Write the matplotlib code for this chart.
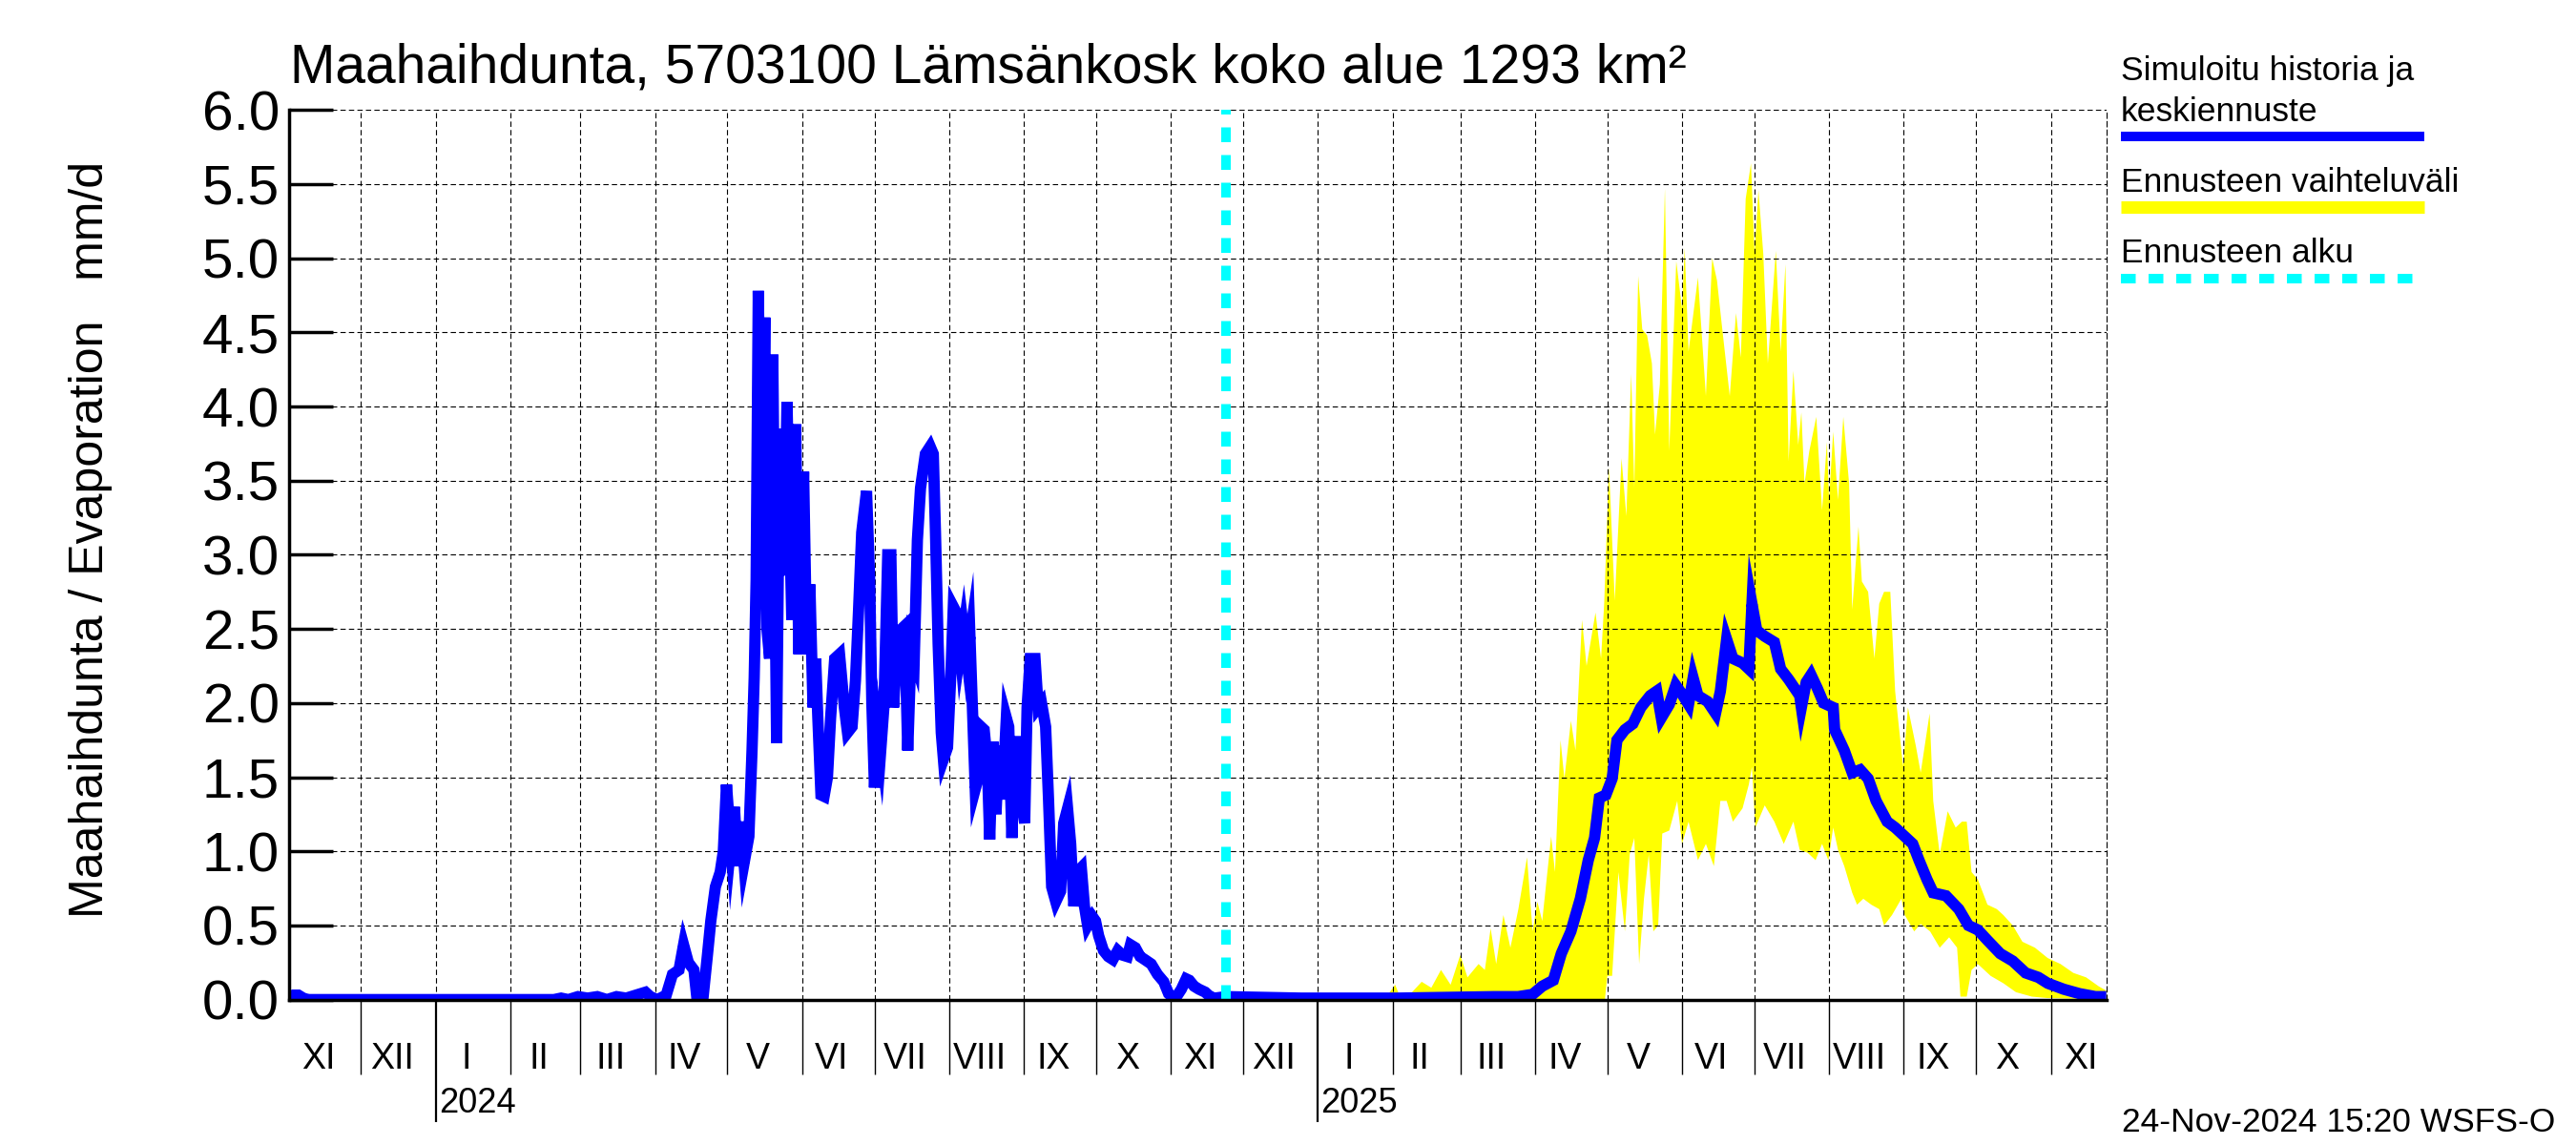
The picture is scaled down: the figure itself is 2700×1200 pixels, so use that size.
import numpy as np
import pandas as pd
import matplotlib
matplotlib.use("Agg")
import matplotlib.pyplot as plt
import matplotlib.dates as mdates
from matplotlib.lines import Line2D
from matplotlib.transforms import blended_transform_factory, offset_copy

plt.rcParams['font.family'] = ['Liberation Sans', 'DejaVu Sans']

# ---------------- data ----------------
BASE_DATE = "2023-11-01"
X_START = "2023-11-01"
X_END = "2025-11-24"
FORECAST_START = "2024-11-24"

title = "Maahaihdunta, 5703100 Lämsänkosk koko alue 1293 km²"
ylabel = "Maahaihdunta / Evaporation   mm/d"
footer = "24-Nov-2024 15:20 WSFS-O"
roman_months = ["I", "II", "III", "IV", "V", "VI", "VII", "VIII", "IX", "X", "XI", "XII"]
legend_labels = ["Simuloitu historia ja\nkeskiennuste", "Ennusteen vaihteluväli", "Ennusteen alku"]
y_ticks = [0.0, 0.5, 1.0, 1.5, 2.0, 2.5, 3.0, 3.5, 4.0, 4.5, 5.0, 5.5, 6.0]

# simulated history (days since BASE_DATE, mm/d)
hist_day = [0, 2, 4, 6, 8, 110, 113, 116, 120, 124, 128, 132, 136, 140, 144, 148, 150, 153,
            156.6, 159.2, 161.9, 163.8, 165.8, 168.1, 169.4, 171.8, 173.7, 175.1, 177.0, 179.0,
            180.3, 181.6, 183.4, 184.9, 186.3, 187.6, 188.9, 190.9, 192.2, 193.1, 193.9, 194.8,
            196.2, 197.5, 198.4, 199.5, 200.8, 202.4, 203.7, 205.4, 206.7, 208.7, 210.3, 211.6,
            213.6, 214.9, 216.2, 217.5, 218.6, 219.5, 220.8, 222.1, 223.5, 224.8, 226.5, 228.5,
            230.5, 231.8, 233.7, 235.1, 236.4, 237.7, 239.7, 241.0, 241.9, 243.0, 244.3, 245.6,
            246.9, 248.5, 249.8, 250.9, 252.2, 254.2, 255.5, 256.8, 258.2, 259.5, 260.8, 262.1,
            264.1, 266.1, 267.4, 268.3, 269.4, 270.7, 271.6, 273.3, 274.7, 275.7, 277.3, 278.6,
            279.9, 281.3, 282.6, 283.9, 284.8, 286.1, 287.2, 288.5, 289.8, 290.8, 292.1, 293.4,
            294.7, 296.0, 297.7, 298.7, 300.0, 301.3, 302.6, 304.0, 305.3, 306.3, 307.6, 309.6,
            310.9, 312.3, 314.0, 315.2, 316.5, 318.2, 320.2, 321.5, 323.1, 324.4, 325.7, 327.0,
            328.8, 330.1, 331.4, 333.4, 334.7, 336.0, 338.0, 340.0, 341.9, 343.9, 345.9, 347.9,
            349.2, 351.2, 353.2, 355.1, 357.8, 360.4, 363.0, 365.0, 366.3, 368.3, 370.3, 372.3,
            373.6, 375.6, 377.6, 380.2, 382.2, 384.2, 388.8]
hist_val = [0.01, 0.03, 0.03, 0.01, 0.0, 0.0, 0.01, 0.0, 0.02, 0.01, 0.02, 0.0, 0.02, 0.01, 0.03, 0.05, 0.02, 0.0,
            0.03, 0.17, 0.20, 0.37, 0.25, 0.20, 0.0, 0.0, 0.30, 0.53, 0.76, 0.86,
            1.00, 1.45, 1.05, 1.30, 0.90, 1.20, 0.92, 1.10, 1.68, 2.17, 2.83, 4.78,
            3.10, 4.60, 2.50, 2.30, 4.35, 1.73, 3.85, 2.86, 4.03, 2.56, 3.88, 2.33,
            3.56, 2.33, 2.80, 1.97, 2.30, 1.90, 1.38, 1.37, 1.50, 1.90, 2.30, 2.33,
            1.97, 1.80, 1.84, 2.15, 2.63, 3.15, 3.43, 2.83, 2.00, 1.43, 1.84, 1.68,
            1.97, 3.00, 3.00, 1.97, 2.33, 2.50, 2.52, 1.68, 2.37, 2.30, 3.10, 3.45,
            3.68, 3.73, 3.68, 3.15, 2.40, 1.80, 1.62, 1.70, 2.20, 2.65, 2.60, 2.35,
            2.50, 2.30, 2.45, 1.84, 1.42, 1.50, 1.84, 1.82, 1.60, 1.08, 1.74, 1.25,
            1.71, 1.35, 1.90, 1.84, 1.09, 1.74, 1.74, 1.35, 1.19, 1.97, 2.30, 2.30,
            1.97, 2.00, 1.84, 1.35, 0.76, 0.66, 0.73, 1.19, 1.29, 1.05, 0.63, 0.86,
            0.89, 0.63, 0.50, 0.56, 0.53, 0.43, 0.33, 0.29, 0.27, 0.33, 0.30, 0.29,
            0.37, 0.35, 0.29, 0.27, 0.24, 0.17, 0.12, 0.04, 0.02, 0.02, 0.07, 0.14,
            0.13, 0.09, 0.07, 0.05, 0.02, 0.01, 0.02]

# mean forecast
mean_day = [388.8, 420, 460, 500, 510, 516, 520, 524.6, 527.9, 531.9, 535.8, 539.1, 541.7, 543.7,
            546.4, 549, 551, 554.3, 557.6, 560.9, 564.8, 567.5, 569.4, 572.7, 575.4, 578, 580.7,
            582.6, 584.6, 588.6, 591.9, 593.9, 596.5, 599.1, 603.1, 605.7, 607, 609, 612.3, 616.3,
            618.9, 622.2, 626.8, 627.5, 629.5, 631.5, 634.1, 636.7, 640.7, 641.3, 645.3, 648.6,
            651.9, 655.2, 658.5, 663.1, 666.4, 670.4, 673.7, 676.3, 679.6, 682.2, 687.5, 692.8,
            696.8, 700.7, 704.7, 710, 715.2, 720.5, 725.8, 729.7, 736.3, 742.9, 749.5, 754]
mean_val = [0.02, 0.01, 0.01, 0.02, 0.02, 0.035, 0.09, 0.13, 0.31, 0.46, 0.68, 0.94, 1.09, 1.36,
            1.38, 1.49, 1.75, 1.82, 1.86, 1.97, 2.05, 2.08, 1.90, 1.99, 2.12, 2.06, 1.99,
            2.17, 2.05, 2.01, 1.93, 2.08, 2.43, 2.30, 2.27, 2.23, 2.67, 2.49, 2.45, 2.41,
            2.23, 2.16, 2.05, 1.97, 2.14, 2.19, 2.10, 2.00, 1.97, 1.82, 1.68, 1.53,
            1.55, 1.49, 1.34, 1.20, 1.16, 1.10, 1.05, 0.94, 0.81, 0.72, 0.70, 0.61,
            0.50, 0.47, 0.40, 0.31, 0.26, 0.18, 0.15, 0.11, 0.07, 0.04, 0.02, 0.02]

# forecast range upper / lower
upper_day = [388.8, 455, 459, 461, 466, 470, 474, 478, 482, 486, 489, 493.6, 496.2, 498.6, 500.9,
             503.9, 506.8, 510.1, 513.7, 516, 518, 520, 523.7, 525.3, 527.6, 529.2, 531.9, 533.8,
             536.5, 538.4, 542.1, 544.4, 545.7, 547.7, 550.1, 552.9, 554.9, 556.9, 558.2, 559.8,
             561.5, 563.5, 565.5, 566.8, 568.8, 570.9, 572.7, 575.6, 578, 579.1, 580.7, 584.6,
             587.9, 590.5, 592.5, 594.5, 597.8, 600.4, 602.4, 604.4, 606.6, 608.1, 609.7, 611.7,
             613.6, 616.9, 618.9, 620.9, 622.2, 624.2, 626.2, 627.5, 628.8, 630.8, 633.7, 636.1,
             638.1, 639, 640.7, 642.7, 644.9, 647.3, 648.6, 651.2, 652.6, 655.2, 657.8, 659.8,
             661.8, 664.4, 666.4, 669.7, 671.7, 675, 677, 680.7, 682.2, 684.9, 688.2, 691.5,
             694.1, 696.1, 698.1, 700.7, 704.7, 708.6, 711.3, 715.2, 719.2, 724.4, 729.7, 735,
             740.3, 745.6, 750.8, 754]
upper_val = [0.0, 0.01, 0.10, 0.02, 0.05, 0.12, 0.08, 0.20, 0.10, 0.30, 0.15, 0.24, 0.20, 0.48, 0.24,
             0.57, 0.35, 0.61, 0.96, 0.46, 0.66, 0.53, 1.10, 0.86, 1.75, 1.49, 1.88, 1.68,
             2.56, 2.25, 2.61, 2.30, 2.67, 3.59, 2.69, 3.65, 3.26, 4.22, 3.45, 4.88,
             4.52, 4.48, 4.29, 3.81, 4.15, 5.47, 3.70, 4.98, 4.66, 5.07, 4.37, 4.87,
             4.07, 5.00, 4.85, 4.55, 4.07, 4.63, 4.33, 5.40, 5.64, 5.03, 5.46, 5.03,
             4.29, 5.05, 4.37, 4.96, 3.63, 4.24, 3.74, 3.96, 3.48, 3.70, 3.93, 3.30,
             3.76, 3.37, 3.83, 3.37, 3.93, 3.48, 2.63, 3.19, 2.82, 2.75, 2.30, 2.67,
             2.75, 2.75, 2.08, 1.57, 1.97, 1.71, 1.53, 1.93, 1.34, 0.98, 1.27, 1.16,
             1.20, 1.20, 0.86, 0.81, 0.64, 0.61, 0.57, 0.50, 0.39, 0.35, 0.28, 0.24,
             0.18, 0.15, 0.09, 0.06]
lower_day = [388.8, 546, 547, 549, 551.6, 554.3, 556.3, 558.2, 560.2, 562.2, 564.2, 566.1, 568.1,
             569.8, 572.7, 576, 578, 580.7, 584.6, 587.9, 591.2, 593.9, 596.5, 599.1, 603.1,
             605.7, 607, 608.4, 612.3, 616.3, 620.2, 624.2, 626.8, 630.1, 633.4, 636.1, 638.7,
             640.7, 642.7, 645.3, 648.6, 650.6, 653.2, 656.5, 659.8, 661.8, 665.1, 669, 670.4,
             674.3, 677, 680.9, 684.9, 688.8, 692.1, 693.5, 696.1, 698.1, 700.7, 706, 711.3,
             716.5, 723.1, 729.7, 754]
lower_val = [0.0, 0.0, 0.16, 0.16, 0.86, 0.46, 0.98, 1.09, 0.24, 0.68, 0.98, 0.46, 0.50,
             1.12, 1.14, 1.34, 1.05, 1.20, 0.94, 1.05, 0.90, 1.34, 1.34, 1.20, 1.29,
             1.45, 1.57, 1.16, 1.31, 1.20, 1.05, 1.20, 1.01, 0.99, 0.94, 1.05, 0.94,
             1.16, 1.01, 0.90, 0.72, 0.64, 0.68, 0.64, 0.61, 0.50, 0.57, 0.68, 0.57,
             0.46, 0.51, 0.46, 0.35, 0.42, 0.35, 0.02, 0.02, 0.20, 0.24, 0.16, 0.11,
             0.05, 0.02, 0.01, 0.0]

# ---------------- helpers ----------------
base = pd.Timestamp(BASE_DATE)
def to_dates(days):
    return base + pd.to_timedelta(np.asarray(days, dtype=float), unit="D")

W_PX, H_PX = 2700, 1200
def fx(px):
    return px / W_PX
def fy(py):
    return 1 - py / H_PX

fig = plt.figure(figsize=(27, 12), dpi=100)
ax = fig.add_axes([fx(302.6), fy(1047.6), fx(2207.7) - fx(302.6), fy(115.2) - fy(1047.6)])

x0, x1 = pd.Timestamp(X_START), pd.Timestamp(X_END)

# forecast band (polygon from upper path and reversed lower path)
ud, ld = to_dates(upper_day), to_dates(lower_day)
poly_x = np.concatenate([mdates.date2num(ud), mdates.date2num(ld)[::-1]])
poly_y = np.concatenate([np.asarray(upper_val), np.asarray(lower_val)[::-1]])
ax.fill(poly_x, poly_y, color="#FFFF00", lw=0, zorder=1)

# lines
ax.plot(to_dates(hist_day), hist_val, color="#0000FF", lw=8.5, zorder=4,
        solid_joinstyle="miter", solid_capstyle="butt")
ax.plot(to_dates(mean_day), mean_val, color="#0000FF", lw=8.5, zorder=4,
        solid_joinstyle="miter", solid_capstyle="butt")
ax.axvline(pd.Timestamp(FORECAST_START), color="#00FFFF", lw=7.2,
           linestyle=(0, (1.55, 1.35)), zorder=5)

ax.set_xlim(x0, x1)
ax.set_ylim(0, 6)

# y axis
ax.set_yticks(y_ticks)
ax.set_yticklabels([f"{v:.1f}" for v in y_ticks], fontsize=42)
ax.tick_params(axis="y", direction="in", length=33, width=2.5, pad=7, color="black")

# x axis ticks: month starts (minor), year starts (major)
month_starts = pd.date_range(x0 + pd.offsets.MonthBegin(1), x1, freq="MS")
year_starts = [d for d in month_starts if d.month == 1]
other_months = [d for d in month_starts if d.month != 1]
ax.set_xticks(mdates.date2num(year_starts))
ax.set_xticks(mdates.date2num(other_months), minor=True)
ax.set_xticklabels([])
ax.tick_params(axis="x", which="major", direction="out", length=92, width=1.6, color="black")
ax.tick_params(axis="x", which="minor", direction="out", length=56, width=1.0, color="black")

# grid
ax.set_axisbelow(False)
ax.grid(axis="x", which="both", color="black", linestyle=(0, (5, 3)), lw=0.8)
ax.grid(axis="y", which="major", color="black", linestyle=(0, (5, 3)), lw=0.8)

for s in ["left", "bottom"]:
    ax.spines[s].set_linewidth(2.5)
    ax.spines[s].set_zorder(6)
ax.spines["top"].set_visible(False)
ax.spines["right"].set_linestyle((0, (5, 3)))
ax.spines["right"].set_linewidth(0.8)

# month labels (at the middle of each calendar month, nudged slightly left)
trans_lbl = blended_transform_factory(ax.transData, fig.transFigure)
trans_month = offset_copy(trans_lbl, fig=fig, x=-7, y=0, units="dots")
first_month = x0.to_period("M").to_timestamp()
all_months = pd.date_range(first_month, x1, freq="MS")
for m in all_months:
    nxt = m + pd.offsets.MonthBegin(1)
    mid = m + (nxt - m) / 2
    ax.text(mdates.date2num(mid), fy(1120), roman_months[m.month - 1], transform=trans_month,
            ha="center", va="baseline", fontsize=27, clip_on=False)

# year labels
trans_year = offset_copy(trans_lbl, fig=fig, x=3, y=0, units="dots")
for d in year_starts:
    ax.text(mdates.date2num(d), fy(1166), str(d.year), transform=trans_year,
            ha="left", va="baseline", fontsize=26, clip_on=False)

# title, y label, footer
fig.text(fx(304), fy(86), title, fontsize=41, ha="left", va="baseline")
fig.text(fx(95), fy(565), ylabel, fontsize=36, rotation=90, ha="center", va="center")
fig.text(fx(2224), fy(1186), footer, fontsize=25.5, ha="left", va="baseline")

# legend (drawn manually)
fig.text(fx(2223), fy(84), "Simuloitu historia ja", fontsize=25.5, ha="left", va="baseline")
fig.text(fx(2223), fy(127), "keskiennuste", fontsize=25.5, ha="left", va="baseline")
fig.add_artist(Line2D([fx(2223), fx(2541)], [fy(143), fy(143)], transform=fig.transFigure,
                      color="#0000FF", lw=7.2, solid_capstyle="butt"))
fig.text(fx(2223), fy(201), legend_labels[1], fontsize=25.5, ha="left", va="baseline")
fig.add_artist(Line2D([fx(2223), fx(2541)], [fy(217), fy(217)], transform=fig.transFigure,
                      color="#FFFF00", lw=9.4, solid_capstyle="butt"))
fig.text(fx(2223), fy(275), legend_labels[2], fontsize=25.5, ha="left", va="baseline")
fig.add_artist(Line2D([fx(2223), fx(2541)], [fy(292), fy(292)], transform=fig.transFigure,
                      color="#00FFFF", lw=7.2, linestyle=(0, (1.55, 1.35))))

fig.savefig("out.png", dpi=100, facecolor="white")
